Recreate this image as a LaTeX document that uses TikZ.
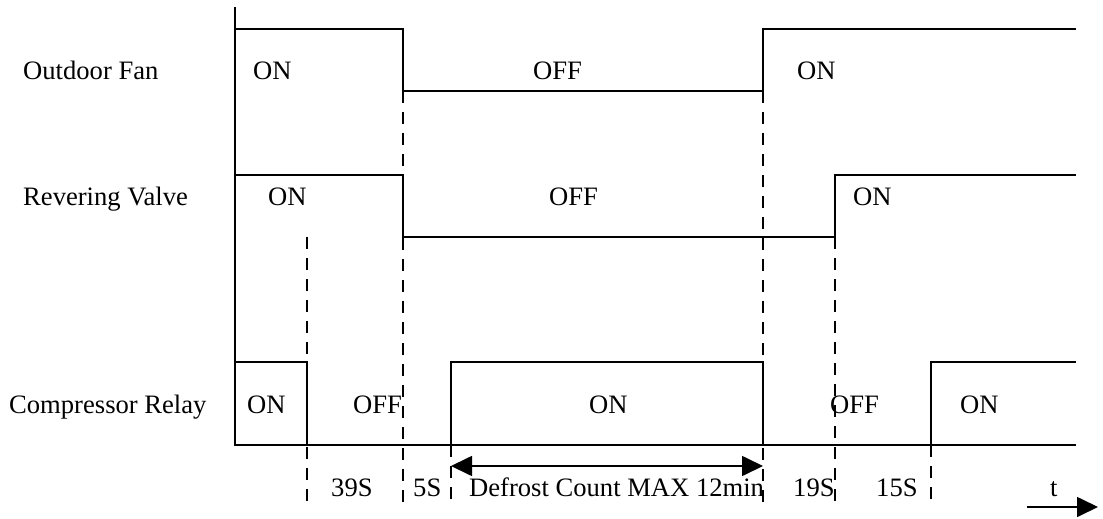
\documentclass[tikz,border=0pt]{standalone}
\usepackage{fontspec}
\setmainfont{Liberation Serif}
\usetikzlibrary{arrows.meta}
\begin{document}
\begin{tikzpicture}[x=1pt,y=-1pt,
  sig/.style={line width=1.7pt,line join=miter},
  guide/.style={line width=1.5pt,dash pattern=on 12pt off 9pt},
  lbl/.style={anchor=base west,inner sep=0pt,font=\fontsize{26.6}{30}\selectfont},
  tip/.style={-{Triangle[length=21pt,width=20pt]}}]
\useasboundingbox (0,0) rectangle (1103,519);
% dashed guide lines
\draw[guide] (307,237) -- (307,505);
\draw[guide] (403,91) -- (403,505);
\draw[guide] (451,445) -- (451,505);
\draw[guide] (763,91) -- (763,507);
\draw[guide] (835,237) -- (835,505);
\draw[guide] (931,445) -- (931,505);
% axis
\draw[sig] (235,7) -- (235,445) -- (1076,445);
% outdoor fan
\draw[sig] (235,29) -- (403,29) -- (403,91) -- (763,91) -- (763,29) -- (1076,29);
% revering valve
\draw[sig] (235,175) -- (403,175) -- (403,237) -- (835,237) -- (835,175) -- (1076,175);
% compressor relay
\draw[sig] (235,362) -- (307,362) -- (307,445);
\draw[sig] (451,445) -- (451,362) -- (763,362) -- (763,445);
\draw[sig] (931,445) -- (931,362) -- (1076,362);
% labels
\node[lbl] (fan) at (23,80) {Outdoor Fan};
\node[lbl] (valve) at (23,205) {Revering Valve};
\node[lbl] (comp) at (9,413) {Compressor Relay};
\node[lbl] (f1) at (253,80) {ON};
\node[lbl] (f2) at (533,80) {OFF};
\node[lbl] (f3) at (797,80) {ON};
\node[lbl] (v1) at (268,205) {ON};
\node[lbl] (v2) at (549,205) {OFF};
\node[lbl] (v3) at (853,205) {ON};
\node[lbl] (c1) at (247,413) {ON};
\node[lbl] (c2) at (353,413) {OFF};
\node[lbl] (c3) at (589,413) {ON};
\node[lbl] (c4) at (830,413) {OFF};
\node[lbl] (c5) at (960,413) {ON};
\node[lbl] (d1) at (331,496) {39S};
\node[lbl] (d2) at (413,496) {5S};
\node[lbl] (d3) at (469,496) {Defrost Count MAX 12min};
\node[lbl] (d4) at (793,496) {19S};
\node[lbl] (d5) at (876,496) {15S};
\node[lbl] (tl) at (1050,496) {t};
% arrows
\coordinate (dl) at (451,466);
\coordinate (dr) at (763,466);
\draw[line width=1.7pt,{Triangle[length=21pt,width=20pt]}-{Triangle[length=21pt,width=20pt]}] (dl) -- (dr);
\coordinate (ts) at (1027,507);
\coordinate (te) at (1098,507);
\draw[line width=1.7pt,tip] (ts) -- (te);
\end{tikzpicture}
\end{document}
